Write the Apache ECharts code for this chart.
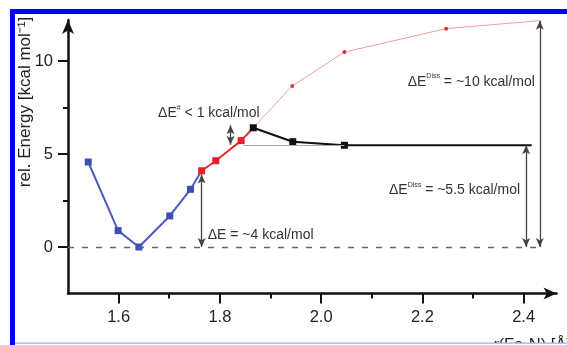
<!DOCTYPE html>
<html><head><meta charset="utf-8">
<script src="https://cdn.jsdelivr.net/npm/echarts@6/dist/echarts.min.js"></script>
<style>html,body{margin:0;padding:0;background:#fff}#c{width:567px;height:345px}</style>
</head><body><div id="c"></div>
<script>
const xTickValues = [1.6, 1.8, 2.0, 2.2, 2.4];
const xMinorTicks = [1.7, 1.9, 2.1, 2.3];
const yTickValues = [0, 5, 10];
const yMinorTicks = [2.5, 7.5];

const bluePoints = [[1.540, 4.57], [1.599, 0.88], [1.640, 0.0], [1.701, 1.67], [1.742, 3.10]];
const redPoints = [[1.764, 4.10], [1.792, 4.64], [1.842, 5.72]];
const blackPoints = [[1.866, 6.41], [1.944, 5.66], [2.046, 5.47]];
const blackPlateauEnd = [2.416, 5.47];
const dissPoints = [[1.943, 8.66], [2.046, 10.48], [2.247, 11.74]];
const dissEnd = [2.432, 12.17];

const FONT = 'Liberation Sans';
const TXT = '#333';

const chart = echarts.init(document.getElementById('c'), null, {renderer: 'canvas'});

function arrow(x, y0, y1) {
  return [{coord: [x, y0]}, {coord: [x, y1]}];
}
function note(x, y, text) {
  return {coord: [x, y], value: text};
}

const option = {
  animation: false,
  backgroundColor: '#fff',
  grid: {left: 68, right: 10.5, top: 20.1, bottom: 51.5, containLabel: false},
  xAxis: [{
    type: 'value', min: 1.5, max: 2.465, position: 'bottom',
    axisLine: {show: true, onZero: false, symbol: ['none', 'arrow'], symbolSize: [9, 13], lineStyle: {color: '#111', width: 2.5}},
    axisTick: {show: true, length: 10, customValues: xTickValues, lineStyle: {color: '#111', width: 2}},
    axisLabel: {show: true, customValues: xTickValues, margin: 15, fontSize: 16.5, color: '#222', fontFamily: FONT,
      formatter: v => v.toFixed(1)},
    splitLine: {show: false}
  }, {
    type: 'value', min: 1.5, max: 2.465, position: 'bottom',
    axisLine: {show: false, onZero: false},
    axisTick: {show: true, length: 5, customValues: xMinorTicks, lineStyle: {color: '#111', width: 2}},
    axisLabel: {show: false},
    splitLine: {show: false}
  }],
  yAxis: [{
    type: 'value', min: -2.5, max: 12.2, position: 'left',
    axisLine: {show: true, onZero: false, symbol: ['none', 'arrow'], symbolSize: [9, 14], lineStyle: {color: '#111', width: 2.5}},
    axisTick: {show: true, length: 10, customValues: yTickValues, lineStyle: {color: '#111', width: 2}},
    axisLabel: {show: true, customValues: yTickValues, margin: 15, fontSize: 16.5, color: '#222', fontFamily: FONT},
    splitLine: {show: false}
  }, {
    type: 'value', min: -2.5, max: 12.2, position: 'left',
    axisLine: {show: false, onZero: false},
    axisTick: {show: true, length: 5, customValues: yMinorTicks, lineStyle: {color: '#111', width: 2}},
    axisLabel: {show: false},
    splitLine: {show: false}
  }],
  series: [
    {
      name: 'guides', type: 'line', data: [], silent: true,
      markLine: {
        silent: true, symbol: ['none', 'none'], label: {show: false},
        lineStyle: {color: '#666', width: 1.3, type: [6, 8]},
        data: [[{coord: [1.5, 0]}, {coord: [dissEnd[0], 0]}]]
      }
    },
    {
      name: 'plateauGuide', type: 'line', data: [], silent: true,
      markLine: {
        silent: true, symbol: ['none', 'none'], label: {show: false},
        lineStyle: {color: '#aaa', width: 1, type: 'solid'},
        data: [[{coord: [1.846, blackPlateauEnd[1]]}, {coord: [blackPoints[2][0], blackPlateauEnd[1]]}]]
      }
    },
    {
      name: 'diss', type: 'line', silent: true,
      data: [blackPoints[0]].concat(dissPoints).concat([{value: dissEnd, symbol: 'none'}]),
      symbol: 'circle', symbolSize: 4, showSymbol: true,
      lineStyle: {color: '#f19c9c', width: 1},
      itemStyle: {color: '#e8303a'}
    },
    {
      name: 'blue', type: 'line', silent: true,
      data: bluePoints.concat([{value: redPoints[0], symbol: 'none'}]),
      symbol: 'rect', symbolSize: 7,
      lineStyle: {color: '#4a5cc0', width: 2},
      itemStyle: {color: '#3d4fb5'}
    },
    {
      name: 'red', type: 'line', silent: true,
      data: redPoints.concat([{value: blackPoints[0], symbol: 'none'}]),
      symbol: 'rect', symbolSize: 7,
      lineStyle: {color: '#ec2a30', width: 2},
      itemStyle: {color: '#e8202a'}
    },
    {
      name: 'black', type: 'line', silent: true,
      data: blackPoints.concat([{value: blackPlateauEnd, symbol: 'none'}]),
      symbol: 'rect', symbolSize: 7,
      lineStyle: {color: '#111', width: 2},
      itemStyle: {color: '#111'},
      markLine: {
        silent: true, symbol: ['arrow', 'arrow'], symbolSize: [6, 9], label: {show: false},
        lineStyle: {color: '#444', width: 1.3, type: 'solid'},
        data: [
          arrow(redPoints[0][0], 0, 3.9),
          arrow(1.821, 5.5, 6.55),
          arrow(dissEnd[0], 0, dissEnd[1]),
          arrow(2.405, 0, blackPlateauEnd[1])
        ]
      },
      markPoint: {
        silent: true, symbol: 'rect', symbolSize: 1, itemStyle: {color: 'rgba(0,0,0,0)'},
        label: {
          show: true, position: 'right', distance: 0, color: TXT, fontFamily: FONT,
          formatter: p => p.value,
          rich: {
            b: {fontSize: 14, color: TXT, fontFamily: FONT, lineHeight: 18},
            s: {fontSize: 7, color: TXT, fontFamily: FONT, verticalAlign: 'top', lineHeight: 18}
          }
        },
        data: [
          note(1.775, 0.65, '{b|ΔE = ~4 kcal/mol}'),
          note(1.677, 7.2, '{b|ΔE}{s|#}{b| < 1 kcal/mol}'),
          note(2.170, 8.87, '{b|ΔE}{s|Diss}{b| = ~10 kcal/mol}'),
          note(2.133, 3.06, '{b|ΔE}{s|Diss}{b| = ~5.5 kcal/mol}')
        ]
      }
    }
  ],
  graphic: [
    {type: 'text', x: 25, y: 102, rotation: Math.PI / 2,
      style: {text: 'rel. Energy [kcal mol\u207B\u00B9]', fontSize: 17, fontFamily: FONT, fill: '#222', align: 'center', verticalAlign: 'middle'}},
    {type: 'text', x: 493, y: 337,
      style: {text: '{i|r}{n|(Fe-N) [\u00C5]}', fontSize: 16.5, fontFamily: FONT, fill: '#222', align: 'left', verticalAlign: 'top',
        rich: {i: {fontStyle: 'italic', fontSize: 16.5, fontFamily: FONT, fill: '#222'}, n: {fontSize: 16.5, fontFamily: FONT, fill: '#222'}}}},
    {type: 'rect', shape: {x: 10, y: 9, width: 557, height: 5}, style: {fill: '#0000ff'}},
    {type: 'rect', shape: {x: 10, y: 9, width: 5, height: 336}, style: {fill: '#0000ff'}},
    {type: 'rect', shape: {x: 15, y: 343, width: 552, height: 2}, style: {fill: '#fff'}},
    {type: 'rect', shape: {x: 15, y: 342.5, width: 552, height: 1.2}, style: {fill: '#a8a8ff'}}
  ]
};
chart.setOption(option);
</script>
</body></html>
